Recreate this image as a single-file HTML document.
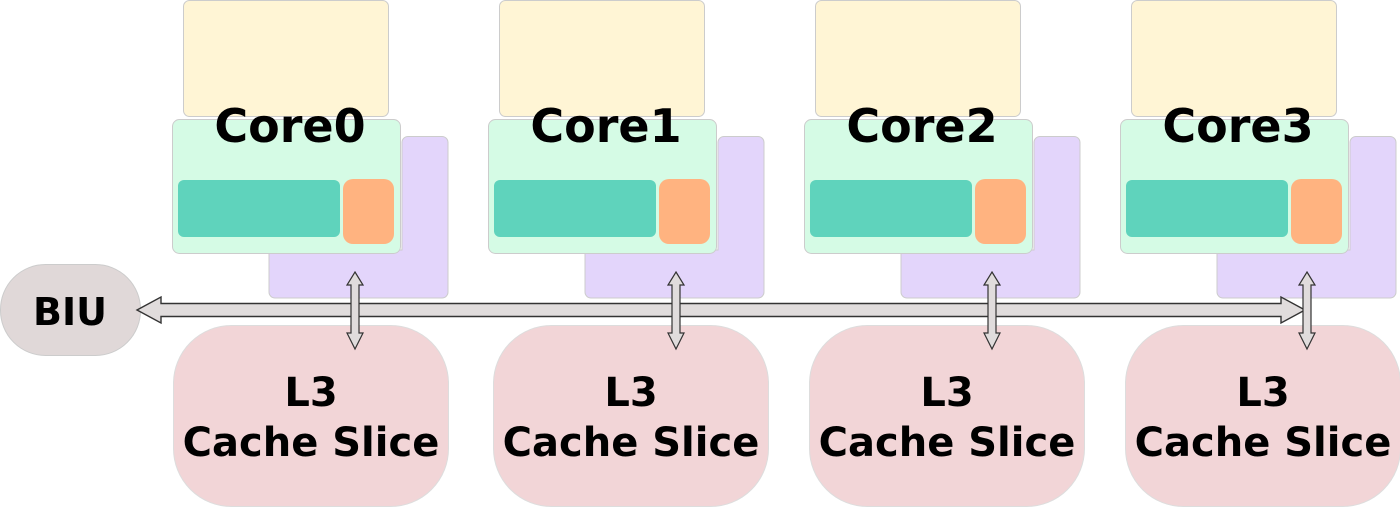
<!DOCTYPE html>
<html><head><meta charset="utf-8"><style>
body{margin:0;background:#fff;}
svg{display:block}
text{font-family:"DejaVu Sans","Liberation Sans",sans-serif;font-weight:bold;fill:#000}
</style></head><body>
<svg width="1400" height="507" viewBox="0 0 1400 507">
<defs>
<g id="core">
  <rect x="183.5" y="0.5" width="205" height="116" rx="6" fill="#fff5d5" stroke="#ccc" stroke-width="1"/>
  <path d="M408,136.5 H442 a6,6 0 0 1 6,6 V292 a6,6 0 0 1 -6,6 H275 a6,6 0 0 1 -6,-6 V250 H402 V142.5 a6,6 0 0 1 6,-6 Z" fill="#e3d5fb" stroke="#ccc" stroke-width="1"/>
  <rect x="172.5" y="119.5" width="228" height="134" rx="7" fill="#d5fbe5" stroke="#ccc" stroke-width="1"/>
  <rect x="178" y="180" width="162" height="57" rx="6" fill="#5fd3bc"/>
  <rect x="343" y="179" width="51" height="65" rx="10" fill="#ffb380"/>
</g>
<g id="l3">
  <rect x="173.5" y="325.5" width="275" height="181" rx="58" fill="#f2d5d7" stroke="#ddd" stroke-width="1"/>
</g>
<g id="varrow">
  <path d="M355,272 L363,285 L359,285 L359,333 L363,333 L355,349 L347,333 L351,333 L351,285 L347,285 Z" fill="#e0dcdc" stroke="#333" stroke-width="1.2"/>
</g>
</defs>
<use href="#core"/>
<use href="#core" x="316"/>
<use href="#core" x="632"/>
<use href="#core" x="948"/>
<use href="#l3"/>
<use href="#l3" x="320"/>
<use href="#l3" x="636"/>
<use href="#l3" x="952"/>
<rect x="0.5" y="264.5" width="140" height="91" rx="45" fill="#e0d8d8" stroke="#ccc"/>
<text x="70" y="325" font-size="38" text-anchor="middle">BIU</text>
<path d="M137,310 L161,297 L161,303.5 L1281,303.5 L1281,297 L1305,310 L1281,323 L1281,316.5 L161,316.5 L161,323 Z" fill="#e0dcdc" stroke="#333" stroke-width="1.4"/>
<use href="#varrow"/>
<use href="#varrow" x="321"/>
<use href="#varrow" x="637"/>
<use href="#varrow" x="952"/>
<g font-size="46" text-anchor="middle">
<text x="290" y="142">Core0</text>
<text x="606" y="142">Core1</text>
<text x="922" y="142">Core2</text>
<text x="1238" y="142">Core3</text>
</g>
<g font-size="40" text-anchor="middle">
<text x="311" y="406">L3</text><text x="311" y="456">Cache Slice</text>
<text x="631" y="406">L3</text><text x="631" y="456">Cache Slice</text>
<text x="947" y="406">L3</text><text x="947" y="456">Cache Slice</text>
<text x="1263" y="406">L3</text><text x="1263" y="456">Cache Slice</text>
</g>
</svg>
</body></html>
